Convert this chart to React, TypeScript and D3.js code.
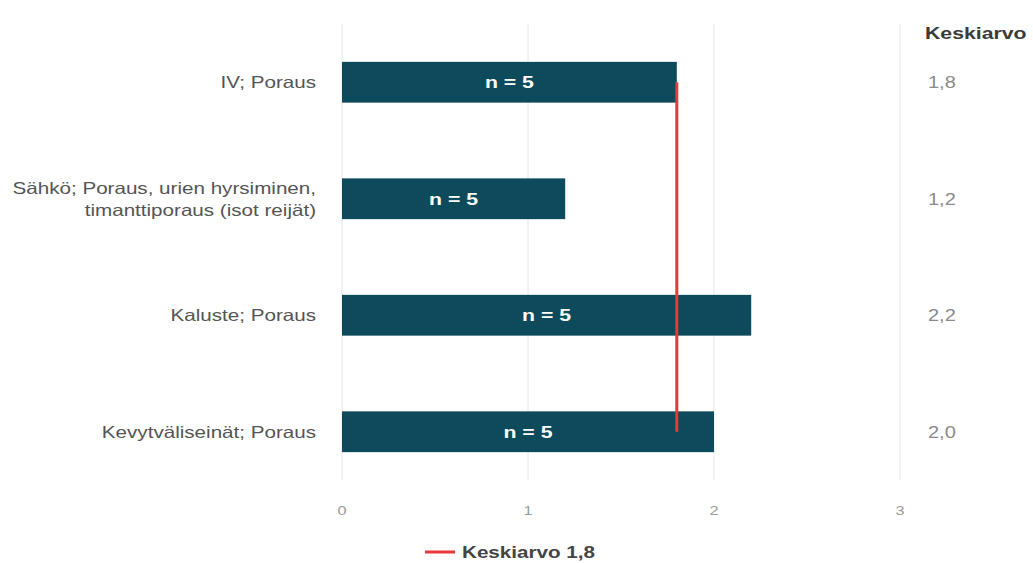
import React from "react";
import * as d3 from "d3";

const categories: string[][] = [
  ["IV; Poraus"],
  ["Sähkö; Poraus, urien hyrsiminen,", "timanttiporaus (isot reijät)"],
  ["Kaluste; Poraus"],
  ["Kevytväliseinät; Poraus"],
];
const values: number[] = [1.8, 1.2, 2.2, 2.0];
const counts: number[] = [5, 5, 5, 5];
const averageValue = 1.8;
const xTicks: number[] = [0, 1, 2, 3];
const columnTitle = "Keskiarvo";
const legendLabel = "Keskiarvo 1,8";

const W = 1033;
const H = 563;
const STRETCH = 1.25;
const fmt = (v: number) => v.toFixed(1).replace(".", ",");

type TProps = {
  x: number;
  y: number;
  anchor?: "start" | "middle" | "end";
  size: number;
  fill: string;
  weight?: string | number;
  children: React.ReactNode;
};

// Text drawn with a slightly widened face
function WideText({ x, y, anchor = "start", size, fill, weight = "normal", children }: TProps) {
  return (
    <g transform={`translate(${x},${y}) scale(${STRETCH},1)`}>
      <text x={0} y={0} textAnchor={anchor} fontSize={size} fill={fill} fontWeight={weight}>
        {children}
      </text>
    </g>
  );
}

export default function App() {
  const x = d3.scaleLinear().domain([0, 3]).range([342, 900]);
  const y = d3
    .scaleBand<number>()
    .domain(d3.range(categories.length))
    .range([24, 490])
    .paddingInner(0.65)
    .paddingOuter(0.325);
  const bw = y.bandwidth();
  const font = "'Liberation Sans', Arial, sans-serif";

  return (
    <svg
      width={W}
      height={H}
      style={{ position: "absolute", left: 0, top: 0, background: "#fff" }}
      fontFamily={font}
    >
      {xTicks.map((t) => (
        <g key={t}>
          <line x1={x(t)} x2={x(t)} y1={24} y2={480} stroke="#e6e6e6" strokeWidth={1} />
          <WideText x={x(t)} y={515} anchor="middle" size={13} fill="#9a9a9a">
            {t}
          </WideText>
        </g>
      ))}
      {values.map((v, i) => {
        const yc = (y(i) as number) + bw / 2;
        return (
          <g key={i}>
            <rect x={x(0)} y={y(i)} width={x(v) - x(0)} height={bw} fill="#0d4a5b" />
            <WideText
              x={(x(0) + x(v)) / 2}
              y={yc + 6}
              anchor="middle"
              size={17}
              weight="bold"
              fill="#ffffff"
            >
              {`n = ${counts[i]}`}
            </WideText>
            {categories[i].map((line, j) => (
              <WideText
                key={j}
                x={316}
                y={yc + 6 + (j - (categories[i].length - 1) / 2) * 22}
                anchor="end"
                size={16.5}
                fill="#555"
              >
                {line}
              </WideText>
            ))}
            <WideText x={928} y={yc + 6} size={16} fill="#8a8a8a">
              {fmt(v)}
            </WideText>
          </g>
        );
      })}
      <line
        x1={x(averageValue)}
        x2={x(averageValue)}
        y1={(y(0) as number) + bw / 2}
        y2={(y(categories.length - 1) as number) + bw / 2}
        stroke="#e8383b"
        strokeWidth={3}
      />
      <WideText x={925} y={39} size={17} fill="#3a3a3a" weight="bold">
        {columnTitle}
      </WideText>
      <line x1={425} x2={455} y1={552} y2={552} stroke="#e8383b" strokeWidth={3} />
      <WideText x={462} y={558} size={16.5} weight="bold" fill="#444">
        {legendLabel}
      </WideText>
    </svg>
  );
}
